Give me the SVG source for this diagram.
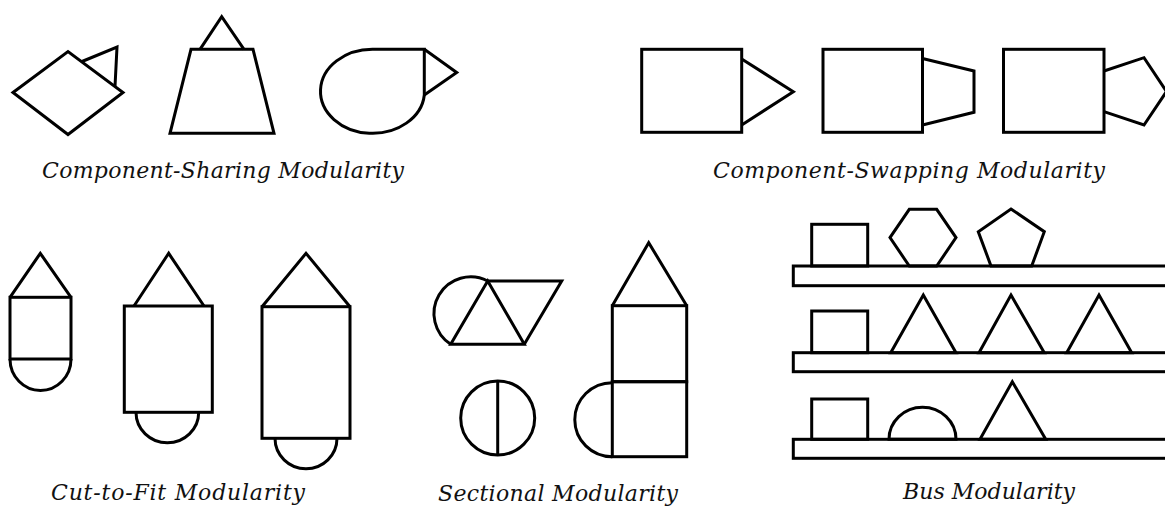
<svg xmlns="http://www.w3.org/2000/svg" width="1165" height="512" viewBox="0 0 1165 512">
<style>
.s{fill:none;stroke:#000;stroke-width:3;stroke-linejoin:miter}
.t{font-family:"DejaVu Serif","Liberation Serif",serif;font-style:italic;font-size:22px;fill:#111}
</style>
<rect x="0" y="0" width="1165" height="512" fill="#fff"/>
<g id="component-sharing">
  <g id="cs-diamond">
    <polygon class="s" points="13,92.5 68,51.5 123,92.5 68,134.5"/>
    <polyline class="s" points="82,61.5 117,47 115,86.5"/>
  </g>
  <g id="cs-trapezoid">
    <polygon class="s" points="191,49.3 253,49.3 274,133.3 170,133.3"/>
    <polyline class="s" points="200,49.3 221.7,16.7 244,49.3"/>
  </g>
  <g id="cs-teardrop">
    <path class="s" d="M373,49.3 L424.3,49.3 L424.3,95 A52,42 0 1 1 373,49.3 Z"/>
    <polyline class="s" points="424.3,49.3 456.7,72.5 424.3,95"/>
  </g>
</g>
<g id="component-swapping">
  <g id="sw-triangle">
    <rect class="s" x="641.7" y="49.3" width="100" height="83"/>
    <polyline class="s" points="741.7,59 793.3,91.7 741.7,125"/>
  </g>
  <g id="sw-trapezoid">
    <rect class="s" x="823" y="49.3" width="99.5" height="83"/>
    <polyline class="s" points="922.5,58.5 974,71 974,112.3 922.5,125"/>
  </g>
  <g id="sw-pentagon">
    <rect class="s" x="1003.5" y="49.3" width="100.5" height="83"/>
    <polyline class="s" points="1104,71 1144,57.7 1166.5,91.5 1144,125 1104,111.7"/>
  </g>
</g>
<g id="cut-to-fit">
  <g id="ctf-1">
    <polyline class="s" points="10,297.3 40.3,253.3 71,297.3"/>
    <rect class="s" x="10" y="297.3" width="61" height="61.7"/>
    <path class="s" d="M10,359 A30.5,31.5 0 0 0 71,359"/>
  </g>
  <g id="ctf-2">
    <polyline class="s" points="134,306 168.7,253.3 204,306"/>
    <rect class="s" x="124.3" y="306" width="88" height="106.3"/>
    <path class="s" d="M136,412.3 A31.3,30.5 0 0 0 198.7,412.3"/>
  </g>
  <g id="ctf-3">
    <polyline class="s" points="262,306.7 306,253.3 350,306.7"/>
    <rect class="s" x="262" y="306.7" width="88" height="131.6"/>
    <path class="s" d="M275,438.3 A31,30.5 0 0 0 337,438.3"/>
  </g>
</g>
<g id="sectional">
  <g id="sec-parallelogram">
    <path class="s" d="M450.7,344.3 A36.7,36.7 0 0 1 487.7,281"/>
    <polygon class="s" points="487.7,281 450.7,344.3 524.3,344.3"/>
    <polyline class="s" points="487.7,281 561.7,281 524.3,344.3"/>
  </g>
  <g id="sec-circle">
    <circle class="s" cx="497.7" cy="418" r="37"/>
    <line class="s" x1="497.7" y1="381" x2="497.7" y2="455"/>
  </g>
  <g id="sec-tower">
    <polyline class="s" points="612.3,305.7 648.7,242.7 686.7,305.7"/>
    <rect class="s" x="612.3" y="305.7" width="74.4" height="76"/>
    <rect class="s" x="612.3" y="381.7" width="74.4" height="75"/>
    <path class="s" d="M612.3,456.7 A37.5,37 0 0 1 612.3,382.7"/>
  </g>
</g>
<g id="bus">
  <g id="bus-row-1">
    <rect class="s" x="793.3" y="266" width="400" height="19.7"/>
    <rect class="s" x="811.7" y="224.3" width="56" height="41.7"/>
    <polygon class="s" points="909.3,209.3 936.7,209.3 956,237.6 936.7,266 909.3,266 890,237.6"/>
    <polygon class="s" points="1011,209 1044.3,231.7 1031.7,266 991,266 978.3,231.7"/>
  </g>
  <g id="bus-row-2">
    <rect class="s" x="793.3" y="352.7" width="400" height="19"/>
    <rect class="s" x="811.7" y="311" width="56" height="41.7"/>
    <polygon class="s" points="923.3,295 956,352.7 890.7,352.7"/>
    <polygon class="s" points="1011,295 1044.3,352.7 979,352.7"/>
    <polygon class="s" points="1099,295 1131.7,352.7 1066.7,352.7"/>
  </g>
  <g id="bus-row-3">
    <rect class="s" x="793.3" y="439.3" width="400" height="19"/>
    <rect class="s" x="811.7" y="399" width="56" height="40.3"/>
    <path class="s" d="M889,439.3 A33.5,32 0 0 1 956,439.3 Z"/>
    <polygon class="s" points="1012.3,381.7 1045.7,439.3 980,439.3"/>
  </g>
</g>
<g id="labels">
  <text class="t" x="42" y="178" textLength="362" lengthAdjust="spacing">Component-Sharing Modularity</text>
  <text class="t" x="713" y="178" textLength="392" lengthAdjust="spacing">Component-Swapping Modularity</text>
  <text class="t" x="51" y="500" textLength="254" lengthAdjust="spacing">Cut-to-Fit Modularity</text>
  <text class="t" x="438" y="501" textLength="240" lengthAdjust="spacing">Sectional Modularity</text>
  <text class="t" x="903" y="499" textLength="172" lengthAdjust="spacing">Bus Modularity</text>
</g>
</svg>
